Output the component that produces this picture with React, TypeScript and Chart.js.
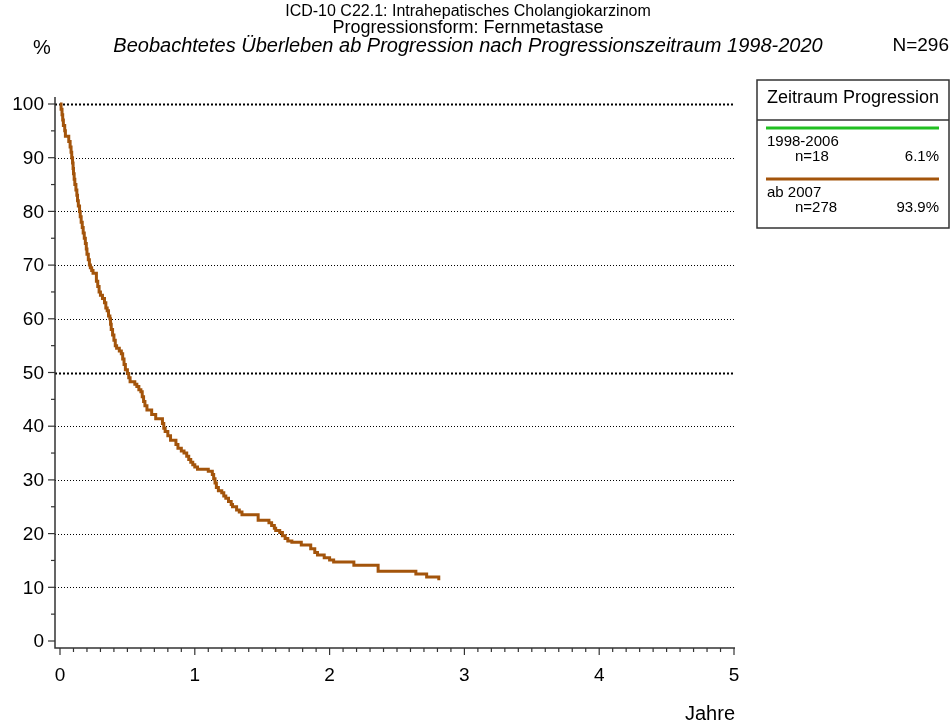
import React, { useEffect, useRef } from "react";
import { Chart, registerables } from "chart.js";

Chart.register(...registerables);

const TITLE_1 = "ICD-10 C22.1: Intrahepatisches Cholangiokarzinom";
const TITLE_2 = "Progressionsform: Fernmetastase";
const TITLE_3 = "Beobachtetes Überleben ab Progression nach Progressionszeitraum 1998-2020";
const Y_UNIT = "%";
const N_TOTAL = "N=296";
const X_TITLE = "Jahre";

const X_TICKS = [0, 1, 2, 3, 4, 5];
const Y_TICKS = [0, 10, 20, 30, 40, 50, 60, 70, 80, 90, 100];

const LEGEND_TITLE = "Zeitraum Progression";
const GROUP_LABELS = ["1998-2006", "ab 2007"];
const GROUP_N = ["n=18", "n=278"];
const GROUP_PCT = ["6.1%", "93.9%"];
const GROUP_COLORS = ["#22c022", "#a3540b"];

// Kaplan-Meier step curve "ab 2007": time (years) and survival (%)
const T_2007 = [
  0, 0.008, 0.015, 0.02, 0.025, 0.035, 0.04, 0.065, 0.075, 0.082, 0.087, 0.093, 0.097,
  0.1, 0.105, 0.11, 0.118, 0.125, 0.13, 0.136, 0.145, 0.15, 0.157, 0.165, 0.172, 0.18,
  0.188, 0.195, 0.2, 0.21, 0.218, 0.225, 0.235, 0.245, 0.27, 0.28, 0.29, 0.3, 0.315,
  0.33, 0.34, 0.35, 0.36, 0.37, 0.375, 0.38, 0.39, 0.4, 0.41, 0.42, 0.44, 0.455, 0.465,
  0.475, 0.485, 0.5, 0.51, 0.52, 0.555, 0.57, 0.585, 0.6, 0.61, 0.62, 0.63, 0.645, 0.68,
  0.71, 0.76, 0.77, 0.78, 0.8, 0.82, 0.86, 0.875, 0.9, 0.92, 0.94, 0.955, 0.97, 0.985,
  1.0, 1.02, 1.1, 1.13, 1.14, 1.15, 1.16, 1.175, 1.2, 1.215, 1.23, 1.25, 1.27, 1.28,
  1.31, 1.33, 1.35, 1.47, 1.55, 1.57, 1.59, 1.6, 1.63, 1.65, 1.67, 1.69, 1.72, 1.79,
  1.86, 1.89, 1.91, 1.96, 2.0, 2.03, 2.18, 2.36, 2.64, 2.72, 2.81,
];
const S_2007 = [
  100, 99, 98, 97, 96, 95, 94, 93, 92, 91, 90, 89, 88,
  87, 86, 85, 84, 83, 82, 81, 80, 79, 78, 77, 76, 75,
  74, 73, 72, 71, 70, 69.5, 69, 68.5, 67, 66, 65, 64.4, 63.8,
  63, 62, 61.5, 60.5, 60, 59, 58, 57, 56, 55, 54.5, 54, 53.5, 52.5,
  51.5, 50.5, 49.8, 49, 48.3, 47.8, 47.4, 46.8, 46.4, 45.5, 44.6, 43.8, 43, 42.2,
  41.4, 40.5, 39.6, 39, 38.2, 37.4, 36.6, 35.9, 35.4, 35, 34.4, 33.8, 33.3, 32.8,
  32.4, 32, 31.6, 31, 30.2, 29.4, 28.6, 28, 27.6, 27, 26.6, 26, 25.4, 25,
  24.4, 24, 23.5, 22.5, 22, 21.5, 21, 20.6, 20.2, 19.6, 19.1, 18.6, 18.4, 17.9,
  17.2, 16.5, 16, 15.5, 15.1, 14.7, 14.1, 13.0, 12.5, 11.9, 11.3,
];

const FONT = "Arial, 'Liberation Sans', sans-serif";

const decorPlugin = {
  id: "decor",
  beforeDatasetsDraw(chart: any) {
    const ctx = chart.ctx;
    const xs = chart.scales.x;
    const ys = chart.scales.y;
    const axisX = xs.getPixelForValue(0) - 5;
    const right = xs.getPixelForValue(5) + 1;
    ctx.save();
    ctx.strokeStyle = "#000";
    for (const v of Y_TICKS) {
      if (v === 0) continue;
      const y = Math.round(ys.getPixelForValue(v)) + 0.5;
      const bold = v === 100 || v === 50;
      ctx.lineWidth = bold ? 2 : 1;
      ctx.setLineDash(bold ? [2, 2] : [1, 2]);
      ctx.beginPath();
      ctx.moveTo(axisX, y);
      ctx.lineTo(right, y);
      ctx.stroke();
    }
    ctx.restore();
  },
  afterDraw(chart: any) {
    const ctx = chart.ctx;
    const xs = chart.scales.x;
    const ys = chart.scales.y;
    const axisX = xs.getPixelForValue(0) - 5;
    const axisY = ys.getPixelForValue(0) + 7;
    const right = xs.getPixelForValue(5) + 1;
    const top = ys.getPixelForValue(100) - 7;
    ctx.save();
    ctx.setLineDash([]);
    ctx.strokeStyle = "#333";
    ctx.lineWidth = 1.5;
    ctx.beginPath();
    ctx.moveTo(axisX, top);
    ctx.lineTo(axisX, axisY);
    ctx.lineTo(right, axisY);
    ctx.stroke();
    ctx.lineWidth = 1.2;
    for (let v = 0; v <= 100; v += 5) {
      const y = ys.getPixelForValue(v);
      const len = v % 10 === 0 ? 7 : 4;
      ctx.beginPath();
      ctx.moveTo(axisX - len, y);
      ctx.lineTo(axisX, y);
      ctx.stroke();
    }
    for (let i = 0; i <= 50; i++) {
      const x = xs.getPixelForValue(i / 10);
      const len = i % 10 === 0 ? 7 : 4;
      ctx.beginPath();
      ctx.moveTo(x, axisY);
      ctx.lineTo(x, axisY + len);
      ctx.stroke();
    }
    ctx.fillStyle = "#000";
    ctx.font = `19px ${FONT}`;
    ctx.textAlign = "right";
    ctx.textBaseline = "middle";
    for (const v of Y_TICKS) {
      ctx.fillText(String(v), axisX - 11, ys.getPixelForValue(v) + 1);
    }
    ctx.textAlign = "center";
    for (const v of X_TICKS) {
      ctx.fillText(String(v), xs.getPixelForValue(v), axisY + 28);
    }
    ctx.font = `20px ${FONT}`;
    ctx.textAlign = "right";
    ctx.fillText(X_TITLE, right, 714);

    const cx = 468;
    ctx.textAlign = "center";
    ctx.font = `16px ${FONT}`;
    ctx.fillText(TITLE_1, cx, 12);
    ctx.font = `18px ${FONT}`;
    ctx.fillText(TITLE_2, cx, 28);
    ctx.font = `italic 20px ${FONT}`;
    ctx.fillText(TITLE_3, cx, 46);
    ctx.font = `20px ${FONT}`;
    ctx.fillText(Y_UNIT, 42, 48);
    ctx.textAlign = "right";
    ctx.font = `19px ${FONT}`;
    ctx.fillText(N_TOTAL, 949, 46);

    const lx = 757, ly = 80, lw = 192, lh = 148;
    ctx.strokeStyle = "#333";
    ctx.lineWidth = 1.5;
    ctx.strokeRect(lx, ly, lw, lh);
    ctx.beginPath();
    ctx.moveTo(lx, 120);
    ctx.lineTo(lx + lw, 120);
    ctx.stroke();
    ctx.textAlign = "left";
    ctx.font = `18px ${FONT}`;
    ctx.fillText(LEGEND_TITLE, 767, 98);
    const rowsY = [128, 179];
    for (let i = 0; i < GROUP_LABELS.length; i++) {
      const y0 = rowsY[i];
      ctx.strokeStyle = GROUP_COLORS[i];
      ctx.lineWidth = 3;
      ctx.beginPath();
      ctx.moveTo(766, y0);
      ctx.lineTo(939, y0);
      ctx.stroke();
      ctx.fillStyle = "#000";
      ctx.font = `15px ${FONT}`;
      ctx.textAlign = "left";
      ctx.fillText(GROUP_LABELS[i], 767, y0 + 14);
      ctx.fillText(GROUP_N[i], 795, y0 + 29);
      ctx.textAlign = "right";
      ctx.fillText(GROUP_PCT[i], 939, y0 + 29);
    }
    ctx.restore();
  },
};

export default function App() {
  const ref = useRef<HTMLCanvasElement | null>(null);
  useEffect(() => {
    if (!ref.current) return;
    const points = T_2007.map((t, i) => ({ x: t, y: S_2007[i] }));
    const chart = new Chart(ref.current, {
      type: "line",
      data: {
        datasets: [
          {
            label: GROUP_LABELS[1],
            data: points,
            borderColor: GROUP_COLORS[1],
            borderWidth: 3,
            pointRadius: 0,
            stepped: true,
            fill: false,
            clip: false,
          } as any,
        ],
      },
      options: {
        responsive: false,
        animation: false,
        events: [],
        layout: { padding: { left: 60, right: 217, top: 104, bottom: 87 } },
        plugins: { legend: { display: false }, tooltip: { enabled: false }, title: { display: false } },
        scales: {
          x: { type: "linear", min: 0, max: 5, display: false },
          y: { type: "linear", min: 0, max: 100, display: false },
        },
      },
      plugins: [decorPlugin],
    });
    return () => chart.destroy();
  }, []);
  return (
    <div style={{ position: "absolute", left: 0, top: 0, width: 951, height: 728, background: "#fff" }}>
      <canvas ref={ref} width={951} height={728} style={{ display: "block" }} />
    </div>
  );
}
